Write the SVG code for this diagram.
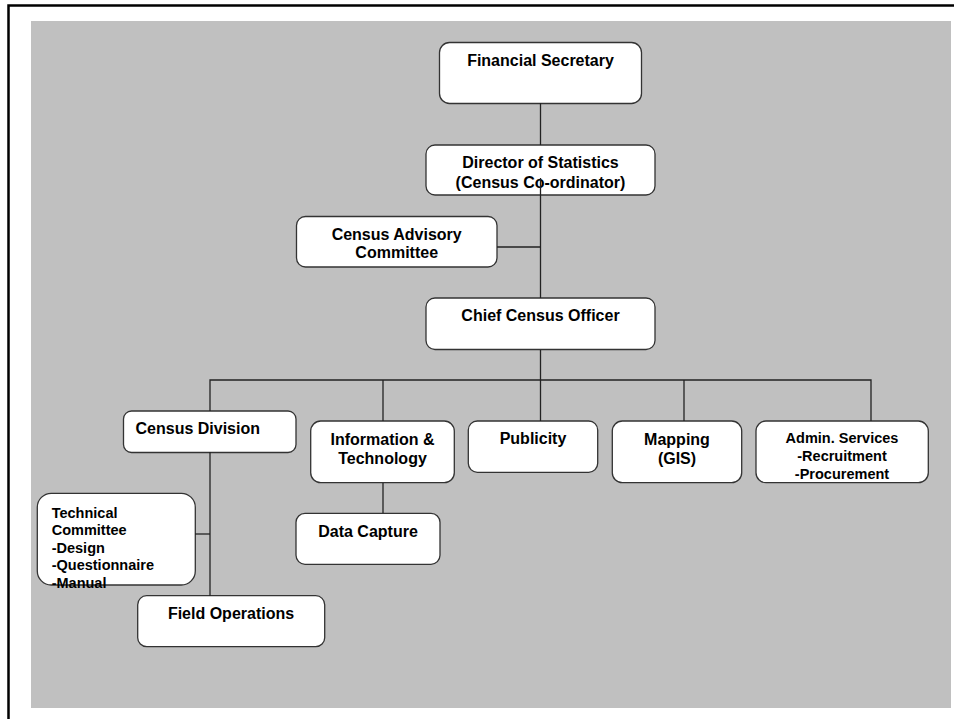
<svg xmlns="http://www.w3.org/2000/svg" width="954" height="719" viewBox="0 0 954 719">
<style>
.box{fill:#ffffff;stroke:#333333;stroke-width:1.3}
.t{font-family:"Liberation Sans",Arial,sans-serif;font-weight:bold;font-size:16px;fill:#000000;text-anchor:middle}
.s{font-size:14.5px}
.l{text-anchor:start}
.c{fill:none;stroke:#222222;stroke-width:1.3}
</style>
<rect x="0" y="0" width="954" height="719" fill="#ffffff"/>
<rect x="31" y="21" width="920" height="687" fill="#c0c0c0"/>
<path d="M8.5 719 V5.5 H954" fill="none" stroke="#000000" stroke-width="2.5"/>
<g id="financial-secretary">
<rect class="box" x="439.5" y="42.5" width="202" height="61" rx="10"/>
<text class="t" x="540.5" y="66">Financial Secretary</text>
</g>
<g id="director">
<rect class="box" x="426" y="145" width="229" height="50" rx="9"/>
<text class="t" x="540.5" y="168.3">Director of Statistics</text>
<text class="t" x="540.5" y="187.7">(Census Co-ordinator)</text>
</g>
<g id="advisory">
<rect class="box" x="296.5" y="216.5" width="200.5" height="50.5" rx="9"/>
<text class="t" x="396.7" y="240">Census Advisory</text>
<text class="t" x="396.7" y="258.3">Committee</text>
</g>
<g id="chief">
<rect class="box" x="426" y="298" width="229" height="51.5" rx="9"/>
<text class="t" x="540.5" y="321">Chief Census Officer</text>
</g>
<g id="census-division">
<rect class="box" x="123.5" y="411" width="172.5" height="41.5" rx="8"/>
<text class="t l" x="135.5" y="434">Census Division</text>
</g>
<g id="info-tech">
<rect class="box" x="310.7" y="421" width="143.6" height="61.7" rx="10"/>
<text class="t" x="382.5" y="445.3">Information &amp;</text>
<text class="t" x="382.5" y="464.3">Technology</text>
</g>
<g id="publicity">
<rect class="box" x="468.3" y="421" width="129.4" height="51.3" rx="9"/>
<text class="t" x="533" y="444.3">Publicity</text>
</g>
<g id="mapping">
<rect class="box" x="612.3" y="421" width="129.4" height="61.7" rx="10"/>
<text class="t" x="677" y="445.3">Mapping</text>
<text class="t" x="677" y="464.3">(GIS)</text>
</g>
<g id="admin">
<rect class="box" x="756" y="421" width="172.3" height="61.7" rx="10"/>
<text class="t s" x="842" y="443.3">Admin. Services</text>
<text class="t s" x="842" y="461">-Recruitment</text>
<text class="t s" x="842" y="479">-Procurement</text>
</g>
<g id="technical-committee">
<rect class="box" x="37.3" y="493.3" width="158" height="91.7" rx="14"/>
<text class="t s l" x="51.7" y="517.7">Technical</text>
<text class="t s l" x="51.7" y="535.2">Committee</text>
<text class="t s l" x="51.7" y="552.7">-Design</text>
<text class="t s l" x="51.7" y="570.2">-Questionnaire</text>
<text class="t s l" x="51.7" y="587.5">-Manual</text>
</g>
<g id="data-capture">
<rect class="box" x="296" y="513.3" width="144" height="51" rx="9"/>
<text class="t" x="368" y="537.3">Data Capture</text>
</g>
<g id="field-operations">
<rect class="box" x="137.7" y="595.7" width="187" height="51" rx="9"/>
<text class="t" x="231" y="619.3">Field Operations</text>
</g>
<g id="connectors">
<path class="c" d="M540.5 103 V145"/>
<path class="c" d="M540.5 178 V298"/>
<path class="c" d="M497 247 H540.5"/>
<path class="c" d="M540.5 350 V421"/>
<path class="c" d="M210 411 V380 H871 V421"/>
<path class="c" d="M383 380 V421"/>
<path class="c" d="M684 380 V421"/>
<path class="c" d="M210 452 V596"/>
<path class="c" d="M195 534 H210"/>
<path class="c" d="M383 483 V513"/>
</g>
</svg>
